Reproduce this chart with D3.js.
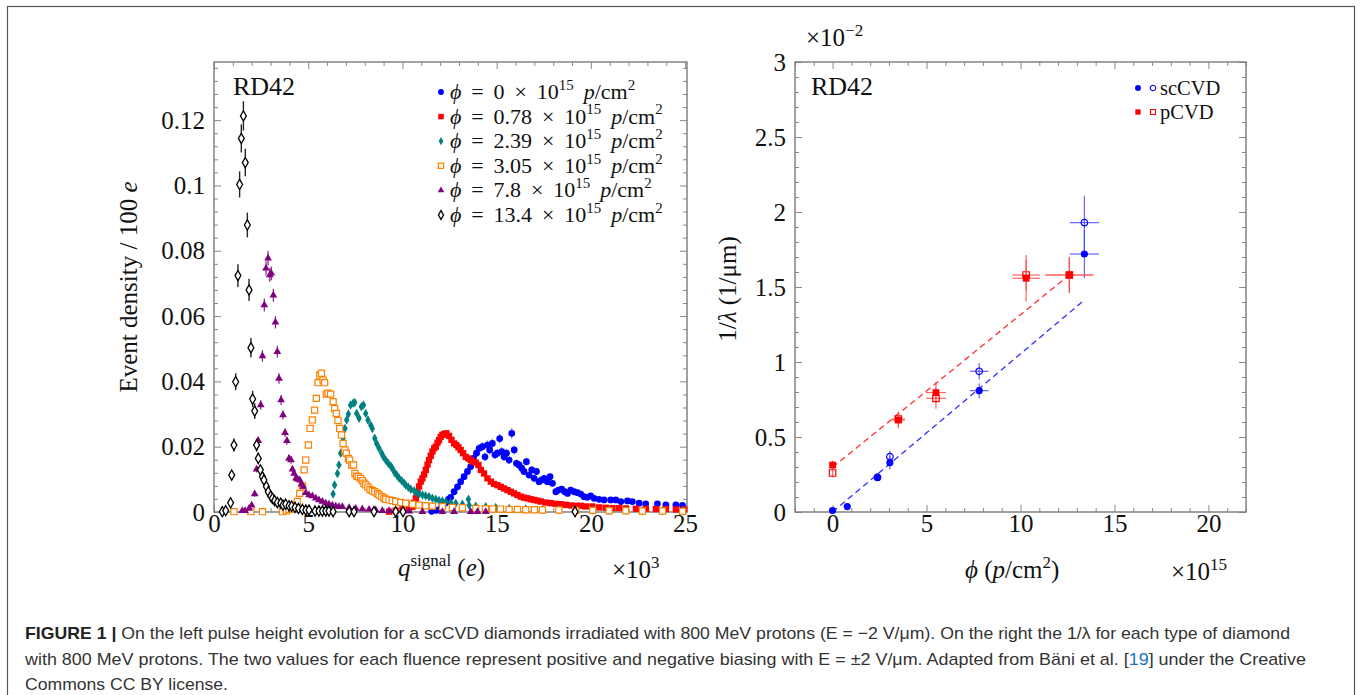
<!DOCTYPE html>
<html><head><meta charset="utf-8">
<script src="https://cdn.jsdelivr.net/npm/d3@7"></script>
<style>body{margin:0;background:#fff}svg{display:block}</style>
</head><body>
<svg id="c" width="1360" height="695"></svg>
<script>
// ---------------- DATA (left: q in 10^3 e, event density / 100 e) ----------------
const legendLabels = ["0", "0.78", "2.39", "3.05", "7.8", "13.4"];
const phi0 = [[11.55,0.0002,0.0002],[11.8,0.0005,0.0003],[12.02,0.0010,0.0004],[12.15,0.0018,0.0005],[12.30,0.0028,0.0006],[12.44,0.0039,0.0006],[12.56,0.0045,0.0007],[12.74,0.0062,0.0008],[12.92,0.0077,0.0008],[13.09,0.0093,0.0009],[13.27,0.0108,0.0010],[13.45,0.0124,0.0011],[13.62,0.0139,0.0011],[13.77,0.0164,0.0012],[13.93,0.0180,0.0013],[14.07,0.0195,0.0013],[14.24,0.0200,0.0014],[14.38,0.0169,0.0013],[14.51,0.0205,0.0014],[14.63,0.0190,0.0013],[14.77,0.0210,0.0014],[14.91,0.0175,0.0013],[15.04,0.0180,0.0013],[15.16,0.0225,0.0015],[15.27,0.0185,0.0013],[15.39,0.0169,0.0013],[15.52,0.0180,0.0013],[15.66,0.0159,0.0012],[15.80,0.0241,0.0016],[15.93,0.0190,0.0014],[16.05,0.0149,0.0012],[16.19,0.0144,0.0012],[16.33,0.0134,0.0011],[16.45,0.0124,0.0011],[16.58,0.0154,0.0012],[16.72,0.0113,0.0010],[16.86,0.0129,0.0011],[16.99,0.0103,0.0010],[17.11,0.0124,0.0011],[17.25,0.0093,0.0009],[17.39,0.0098,0.0010],[17.52,0.0103,0.0010],[17.69,0.0093,0.0009],[17.83,0.0108,0.0010],[17.96,0.0088,0.0009],[18.14,0.0062,0.0008],[18.28,0.0067,0.0008],[18.45,0.0070,0.0008],[18.61,0.0062,0.0008],[18.76,0.0057,0.0007],[18.93,0.0067,0.0008],[19.11,0.0062,0.0008],[19.29,0.0059,0.0007],[19.46,0.0055,0.0007],[19.64,0.0047,0.0007],[19.81,0.0045,0.0007],[19.99,0.0049,0.0007],[20.17,0.0042,0.0006],[20.43,0.0039,0.0006],[20.70,0.0037,0.0006],[21.05,0.0037,0.0006],[21.32,0.0037,0.0006],[21.59,0.0032,0.0006],[21.94,0.0034,0.0006],[22.20,0.0032,0.0006],[22.56,0.0027,0.0005],[22.91,0.0025,0.0005],[23.53,0.0025,0.0005],[23.98,0.0022,0.0005],[24.51,0.0022,0.0005],[24.86,0.0020,0.0005]];
const phi078 = [[9.29,0.0001],[9.64,0.0004],[10.0,0.0008],[10.35,0.0011],[10.53,0.0016],[10.62,0.0028],[10.71,0.0042],[10.80,0.0060],[10.88,0.0078],[10.97,0.0093],[11.06,0.0103],[11.15,0.0115],[11.24,0.0129],[11.33,0.0145],[11.41,0.0159],[11.50,0.0172],[11.59,0.0185],[11.68,0.0195],[11.77,0.0200],[11.86,0.0212],[11.94,0.0220],[12.03,0.0230],[12.12,0.0236],[12.21,0.0239],[12.33,0.0241],[12.47,0.0233],[12.60,0.0221],[12.74,0.0210],[12.86,0.0205],[12.97,0.0198],[13.09,0.0190],[13.22,0.0180],[13.36,0.0169],[13.50,0.0164],[13.62,0.0159],[13.77,0.0154],[13.89,0.0151],[14.03,0.0144],[14.16,0.0129],[14.33,0.0118],[14.51,0.0103],[14.69,0.0093],[14.86,0.0086],[15.04,0.0082],[15.22,0.0077],[15.39,0.0072],[15.57,0.0067],[15.75,0.0062],[15.92,0.0057],[16.10,0.0052],[16.28,0.0047],[16.45,0.0044],[16.63,0.0042],[16.81,0.0039],[16.98,0.0037],[17.16,0.0035],[17.34,0.0032],[17.61,0.0029],[17.87,0.0027],[18.14,0.0025],[18.40,0.0024],[18.67,0.0022],[18.93,0.0020],[19.20,0.0019],[19.46,0.0019],[19.73,0.0017],[20.08,0.0017],[20.44,0.0014],[20.79,0.0013],[21.15,0.0012],[21.50,0.0012],[21.86,0.0011],[22.39,0.0010],[22.92,0.0010],[23.45,0.0009],[23.98,0.0009],[24.51,0.0008],[24.95,0.0008]];
const phi239 = [[6.10,0.0015],[6.32,0.0055],[6.40,0.0083],[6.55,0.0118],[6.63,0.0144],[6.72,0.0180],[6.85,0.0226],[6.95,0.0256],[7.04,0.0282],[7.13,0.0300],[7.25,0.0328],[7.38,0.0333],[7.47,0.0335],[7.57,0.0302],[7.70,0.0287],[7.82,0.0322],[7.93,0.0328],[8.05,0.0302],[8.17,0.0282],[8.32,0.0266],[8.40,0.0256],[8.53,0.0226],[8.63,0.0210],[8.76,0.0195],[8.90,0.0180],[8.99,0.0169],[9.11,0.0159],[9.24,0.0149],[9.38,0.0141],[9.46,0.0134],[9.59,0.0120],[9.70,0.0113],[9.82,0.0103],[9.96,0.0096],[10.09,0.0088],[10.17,0.0083],[10.31,0.0076],[10.44,0.0070],[10.62,0.0065],[10.74,0.0059],[10.88,0.0055],[11.06,0.0052],[11.23,0.0050],[11.41,0.0047],[11.59,0.0042],[11.77,0.0039],[11.94,0.0035],[12.12,0.0034],[12.30,0.0031],[12.56,0.0029],[12.83,0.0027],[13.18,0.0024],[13.50,0.0039],[13.54,0.0021],[13.89,0.0018],[14.42,0.0016],[14.95,0.0014],[15.66,0.0011],[16.54,0.0009],[17.43,0.0008],[18.30,0.0007],[19.20,0.0006],[20.10,0.0006],[20.97,0.0005],[21.85,0.0005],[22.73,0.0004],[23.80,0.0004],[24.90,0.0004]];
const phi305 = [[1.06,0.0001],[1.95,0.0001],[2.57,0.0001],[3.63,0.0001],[3.84,0.0004],[3.98,0.0008],[4.12,0.0011],[4.30,0.0021],[4.42,0.0032],[4.55,0.0057],[4.69,0.0080],[4.78,0.0129],[4.87,0.0159],[5.01,0.0205],[5.10,0.0256],[5.22,0.0282],[5.34,0.0312],[5.43,0.0348],[5.52,0.0396],[5.61,0.0419],[5.70,0.0425],[5.79,0.0404],[5.87,0.0396],[5.96,0.0361],[6.05,0.0364],[6.19,0.0361],[6.32,0.0338],[6.40,0.0317],[6.49,0.0302],[6.58,0.0280],[6.67,0.0256],[6.76,0.0236],[6.85,0.0210],[6.94,0.0190],[7.02,0.0180],[7.13,0.0164],[7.20,0.0159],[7.31,0.0144],[7.40,0.0144],[7.48,0.0118],[7.57,0.0110],[7.66,0.0108],[7.78,0.0103],[7.87,0.0096],[7.96,0.0088],[8.05,0.0083],[8.17,0.0076],[8.28,0.0069],[8.40,0.0065],[8.53,0.0062],[8.67,0.0057],[8.76,0.0052],[8.90,0.0047],[9.02,0.0042],[9.11,0.0039],[9.29,0.0037],[9.46,0.0035],[9.64,0.0032],[9.91,0.0029],[10.17,0.0027],[10.53,0.0024],[10.88,0.0021],[11.23,0.0019],[11.59,0.0018],[12.12,0.0016],[12.65,0.0014],[13.18,0.0013],[13.89,0.0011],[14.40,0.0010],[14.78,0.0009],[15.20,0.0009],[15.66,0.0008],[16.10,0.0008],[16.54,0.0007],[17.00,0.0007],[17.43,0.0006],[18.30,0.0006],[19.20,0.0005],[20.10,0.0005],[20.97,0.0004],[21.85,0.0004],[22.73,0.0003],[23.80,0.0003],[24.86,0.0002]];
const phi78 = [[1.50,0.0004,0.0003],[1.65,0.0004,0.0003],[1.86,0.0011,0.0004],[2.00,0.0021,0.0006],[2.16,0.0055,0.0008],[2.26,0.0131,0.0010],[2.35,0.0218,0.0013],[2.48,0.0328,0.0015],[2.57,0.0478,0.0018],[2.67,0.0634,0.0020],[2.76,0.0746,0.0022],[2.87,0.0777,0.0022],[2.96,0.0726,0.0021],[3.04,0.0731,0.0021],[3.15,0.0664,0.0020],[3.26,0.0581,0.0019],[3.36,0.0491,0.0018],[3.45,0.0409,0.0016],[3.56,0.0343,0.0015],[3.66,0.0297,0.0014],[3.77,0.0243,0.0013],[3.87,0.0218,0.0012],[3.98,0.0164,0.0011],[4.09,0.0159,0.0011],[4.16,0.0131,0.0010],[4.25,0.0118,0.0009],[4.35,0.0103,0.0009],[4.44,0.0100,0.0009],[4.55,0.0098,0.0009],[4.64,0.0085,0.0008],[4.74,0.0078,0.0008],[4.87,0.0059,0.0007],[5.04,0.0052,0.0007],[5.22,0.0049,0.0006],[5.40,0.0042,0.0006],[5.57,0.0037,0.0006],[5.75,0.0032,0.0005],[5.93,0.0027,0.0005],[6.10,0.0024,0.0005],[6.28,0.0021,0.0004],[6.46,0.0018,0.0004],[6.63,0.0016,0.0004],[6.81,0.0016,0.0004],[7.17,0.0013,0.0004],[7.52,0.0011,0.0003],[7.87,0.0009,0.0003],[8.23,0.0008,0.0003],[8.58,0.0006,0.0003],[8.93,0.0004,0.0002],[9.29,0.0004,0.0002],[9.64,0.0004,0.0002],[10.35,0.0002,0.0002],[11.06,0.0001,0.0001],[12.12,0.0001,0.0001],[12.74,0.0001,0.0001],[13.62,0.0001,0.0001],[13.98,0.0001,0.0001],[14.42,0.0001,0.0001]];
const phi134 = [[0.44,0.0001,0.0003],[0.62,0.0004,0.0004],[0.88,0.0028,0.0008],[0.94,0.0113,0.0014],[1.06,0.0205,0.0020],[1.15,0.0399,0.0026],[1.27,0.0724,0.0035],[1.36,0.1003,0.0040],[1.45,0.1144,0.0043],[1.56,0.1213,0.0045],[1.66,0.1070,0.0042],[1.77,0.0879,0.0038],[1.86,0.0680,0.0034],[1.96,0.0503,0.0030],[2.05,0.0346,0.0025],[2.16,0.0309,0.0024],[2.26,0.0205,0.0020],[2.35,0.0164,0.0018],[2.46,0.0129,0.0015],[2.57,0.0108,0.0014],[2.65,0.0098,0.0013],[2.78,0.0078,0.0012],[2.88,0.0062,0.0011],[3.01,0.0049,0.0010],[3.10,0.0042,0.0009],[3.22,0.0035,0.0008],[3.36,0.0029,0.0008],[3.54,0.0027,0.0007],[3.66,0.0021,0.0007],[3.80,0.0024,0.0007],[3.98,0.0019,0.0006],[4.12,0.0018,0.0006],[4.30,0.0014,0.0005],[4.48,0.0011,0.0005],[4.69,0.0008,0.0004],[4.87,0.0006,0.0004],[5.04,0.0006,0.0004],[5.36,0.0003,0.0003],[5.57,0.0003,0.0003],[5.75,0.0003,0.0003],[5.93,0.0003,0.0003],[6.10,0.0003,0.0003],[6.32,0.0001,0.0002],[7.17,0.0001,0.0002],[7.43,0.0001,0.0002],[8.49,0.0001,0.0002],[9.64,0.0001,0.0002],[10.03,0.0001,0.0002],[19.16,0.0001,0.0002]];
const leftXTicks = [0, 5, 10, 15, 20, 25];
const leftYTicks = [0, 0.02, 0.04, 0.06, 0.08, 0.1, 0.12];

// ---------------- DATA (right: phi in 10^15 p/cm^2, 1/lambda in 10^-2 1/um) ----------------
// [phi, value, xErr, yErr]
const scFilled = [[0,0.01,0,0],[0.78,0.036,0,0],[2.39,0.229,0,0.01],[3.05,0.329,0,0.045],[7.8,0.809,0.5,0.05],[13.4,1.72,0.78,0.16]];
const scOpen   = [[2.39,0.232,0,0],[3.05,0.369,0,0.04],[7.8,0.938,0.5,0.055],[13.4,1.929,0.78,0.18]];
const pFilled  = [[0,0.313,0,0.03],[3.5,0.613,0.35,0.055],[5.5,0.796,0.53,0.07],[10.3,1.558,0.73,0.155],[12.6,1.58,1.28,0.12]];
const pOpen    = [[0,0.26,0,0.03],[3.5,0.62,0.35,0.05],[5.5,0.758,0.53,0.07],[10.3,1.58,0.73,0.1],[12.6,1.58,1.28,0.12]];
const scFit = [[0,0.0],[13.4,1.413]];
const pFit  = [[0,0.298],[12.6,1.58]];
const rightXTicks = [0, 5, 10, 15, 20];
const rightYTicks = [0, 0.5, 1, 1.5, 2, 2.5, 3];

// ---------------- DRAW ----------------
const SERIF = "'Liberation Serif','DejaVu Serif',serif";
const svg = d3.select('#c');
svg.append('rect').attr('x',7.5).attr('y',6.5).attr('width',1347).attr('height',720)
  .attr('fill','none').attr('stroke','#555').attr('stroke-width',1.2);

function rich(t, parts, fs){
  let shift = 0;
  parts.forEach(p=>{
    const ts = t.append('tspan').text(p.t);
    if(p.it) ts.attr('font-style','italic');
    const target = p.sup ? -0.42*fs : 0;
    if(p.sup) ts.attr('font-size', 0.68*fs);
    if(target !== shift){ ts.attr('dy', target - shift); shift = target; }
  });
  return t;
}

function frame(g, x, y, xMaj, xMin, yMaj, yMin, yFmt){
  const [bx0,bx1] = x.range(), [by1,by0] = y.range();
  const fs = 25;
  const ax = [
    [d3.axisBottom(x).tickValues(xMaj).tickSize(-7).tickPadding(2).tickFormat(d3.format('d')), `translate(0,${by1})`],
    [d3.axisBottom(x).tickValues(xMin).tickSize(-4).tickFormat(''), `translate(0,${by1})`],
    [d3.axisTop(x).tickValues(xMaj).tickSize(-7).tickFormat(''), `translate(0,${by0})`],
    [d3.axisTop(x).tickValues(xMin).tickSize(-4).tickFormat(''), `translate(0,${by0})`],
    [d3.axisLeft(y).tickValues(yMaj).tickSize(-7).tickPadding(9).tickFormat(yFmt), `translate(${bx0},0)`],
    [d3.axisLeft(y).tickValues(yMin).tickSize(-4).tickFormat(''), `translate(${bx0},0)`],
    [d3.axisRight(y).tickValues(yMaj).tickSize(-7).tickFormat(''), `translate(${bx1},0)`],
    [d3.axisRight(y).tickValues(yMin).tickSize(-4).tickFormat(''), `translate(${bx1},0)`]
  ];
  ax.forEach(([a,tr])=>{
    const gg = g.append('g').attr('transform',tr).call(a);
    gg.select('.domain').remove();
    gg.selectAll('line').attr('stroke','#8a8a8a').attr('stroke-width',1);
    gg.selectAll('text').attr('font-family',SERIF).attr('font-size',fs).attr('fill','#111');
  });
  g.append('rect').attr('x',bx0).attr('y',by0).attr('width',bx1-bx0).attr('height',by1-by0)
    .attr('fill','none').attr('stroke','#7a7a7a').attr('stroke-width',1.4);
}

// ---------- LEFT ----------
const xL = d3.scaleLinear().domain([0,25.1]).range([214,687]);
const yL = d3.scaleLinear().domain([0,0.1378]).range([512,62]);
const gL = svg.append('g');
const leftMinX = d3.range(0,25.5,1).filter(v=>v%5!==0);
const leftMinY = d3.range(0,0.138,0.004).filter(v=>Math.abs(v/0.02-Math.round(v/0.02))>1e-6);
frame(gL, xL, yL, leftXTicks, leftMinX, leftYTicks, leftMinY, d3.format('~g'));

const series = [
  {data:phi0,   color:'#0000ff', sym:d3.symbolCircle,   size:36, fill:true,  ebw:1.2, eop:0.55},
  {data:phi078, color:'#ff0000', sym:d3.symbolSquare,   size:40, fill:true},
  {data:phi239, color:'#008080', sym:d3.symbolDiamond,  size:26, fill:true},
  {data:phi305, color:'#ff8000', sym:d3.symbolSquare,   size:38, fill:false, sw:1.2},
  {data:phi78,  color:'#800080', sym:d3.symbolTriangle, size:26, fill:true,  ebw:1.2, eop:0.9},
  {data:phi134, color:'#000000', sym:d3.symbolDiamond,  size:30, fill:false, sw:1.3, ebw:1.4, eop:0.85}
];
const plotL = gL.append('g');
series.forEach(s=>{
  const g = plotL.append('g');
  g.selectAll('line').data(s.data.filter(d=>d.length>2)).join('line')
    .attr('x1',d=>xL(d[0])).attr('x2',d=>xL(d[0]))
    .attr('y1',d=>yL(Math.max(0,d[1]-d[2]))).attr('y2',d=>yL(d[1]+d[2]))
    .attr('stroke',s.color).attr('stroke-width',s.ebw||1).attr('opacity',s.eop||0.8);
  g.selectAll('path').data(s.data).join('path')
    .attr('transform',d=>`translate(${xL(d[0])},${yL(d[1])})`)
    .attr('d',d3.symbol(s.sym,s.size))
    .attr('fill',s.fill?s.color:'#fff').attr('stroke',s.fill?'none':s.color)
    .attr('stroke-width',s.sw||0);
});

gL.append('text').attr('x',233).attr('y',95).attr('font-family',SERIF).attr('font-size',26).attr('fill','#111').text('RD42');

// legend
const TH = '\u2009';
const legG = gL.append('g');
legendLabels.forEach((lab,i)=>{
  const s = series[i];
  const yy = 92 + i*24.6;
  legG.append('path').attr('transform',`translate(441,${yy})`)
    .attr('d',d3.symbol(s.sym, s.size*0.75))
    .attr('fill',s.fill?s.color:'#fff').attr('stroke',s.fill?'none':s.color).attr('stroke-width',s.sw||0);
  const t = legG.append('text').attr('x',450).attr('y',yy+7).attr('font-family',SERIF).attr('font-size',22).attr('fill','#111');
  rich(t,[{t:'ϕ',it:true},{t:` ${TH}=${TH} ${lab} ${TH}×${TH} 10`},{t:'15',sup:true},{t:' '+TH+'p',it:true},{t:'/cm'},{t:'2',sup:true}],22);
});

// axis labels left
rich(svg.append('text').attr('transform','translate(137,287) rotate(-90)').attr('text-anchor','middle')
  .attr('font-family',SERIF).attr('font-size',25).attr('fill','#111'),
  [{t:'Event density / 100 '},{t:'e',it:true}],25);
rich(svg.append('text').attr('x',398).attr('y',576).attr('font-family',SERIF).attr('font-size',25).attr('fill','#111'),
  [{t:'q',it:true},{t:'signal',sup:true},{t:' ('},{t:'e',it:true},{t:')'}],25);
rich(svg.append('text').attr('x',612).attr('y',578).attr('font-family',SERIF).attr('font-size',25).attr('fill','#111'),
  [{t:'×10'},{t:'3',sup:true}],25);

// ---------- RIGHT ----------
const xR = d3.scaleLinear().domain([-2,22]).range([795,1246]);
const yR = d3.scaleLinear().domain([0,3]).range([512,62]);
const gR = svg.append('g');
const rightMinX = d3.range(-2,22.5,1).filter(v=>v%5!==0);
const rightMinY = d3.range(0,3.01,0.1).filter(v=>Math.abs(v/0.5-Math.round(v/0.5))>1e-6);
frame(gR, xR, yR, rightXTicks, rightMinX, rightYTicks, rightMinY, d3.format('~g'));

const line = d3.line().x(d=>xR(d[0])).y(d=>yR(d[1]));
gR.append('path').attr('d',line(pFit)).attr('fill','none').attr('stroke','#ff3030').attr('stroke-width',1.3).attr('stroke-dasharray','6,4');
gR.append('path').attr('d',line(scFit)).attr('fill','none').attr('stroke','#3030ff').attr('stroke-width',1.3).attr('stroke-dasharray','6,4');

const rs = [
  {data:scOpen,  color:'#0000ff', sym:d3.symbolCircle, size:34, fill:false},
  {data:scFilled,color:'#0000ff', sym:d3.symbolCircle, size:40, fill:true},
  {data:pOpen,   color:'#ff0000', sym:d3.symbolSquare, size:42, fill:false},
  {data:pFilled, color:'#ff0000', sym:d3.symbolSquare, size:46, fill:true}
];
rs.forEach(s=>{
  const g = gR.append('g');
  const ec = s.color==='#0000ff' ? '#4040ff' : '#ff4040';
  g.selectAll('line.v').data(s.data.filter(d=>d[3]>0)).join('line').attr('class','v')
    .attr('x1',d=>xR(d[0])).attr('x2',d=>xR(d[0])).attr('y1',d=>yR(d[1]-d[3])).attr('y2',d=>yR(d[1]+d[3]))
    .attr('stroke',ec).attr('stroke-width',1.2).attr('opacity',0.8);
  g.selectAll('line.h').data(s.data.filter(d=>d[2]>0)).join('line').attr('class','h')
    .attr('x1',d=>xR(d[0]-d[2])).attr('x2',d=>xR(d[0]+d[2])).attr('y1',d=>yR(d[1])).attr('y2',d=>yR(d[1]))
    .attr('stroke',ec).attr('stroke-width',1.2).attr('opacity',0.8);
  g.selectAll('path').data(s.data).join('path')
    .attr('transform',d=>`translate(${xR(d[0])},${yR(d[1])})`)
    .attr('d',d3.symbol(s.sym,s.size))
    .attr('fill',s.fill?s.color:'none').attr('stroke',s.fill?'none':s.color).attr('stroke-width',1.2);
});

gR.append('text').attr('x',811).attr('y',95).attr('font-family',SERIF).attr('font-size',26).attr('fill','#111').text('RD42');
// right legend
[['scCVD','#0000ff',d3.symbolCircle,88],['pCVD','#ff0000',d3.symbolSquare,112]].forEach(([lab,c,sym,yy])=>{
  gR.append('path').attr('transform',`translate(1138,${yy})`).attr('d',d3.symbol(sym,28)).attr('fill',c);
  gR.append('path').attr('transform',`translate(1153,${yy})`).attr('d',d3.symbol(sym,24)).attr('fill','none').attr('stroke',c).attr('stroke-width',1.1);
  gR.append('text').attr('x',1160).attr('y',yy+6.5).attr('font-family',SERIF).attr('font-size',20.5).attr('fill','#111').text(lab);
});

rich(svg.append('text').attr('transform','translate(736,289) rotate(-90)').attr('text-anchor','middle')
  .attr('font-family',SERIF).attr('font-size',25).attr('fill','#111'),
  [{t:'1/'},{t:'λ',it:true},{t:' (1/μm)'}],25);
rich(svg.append('text').attr('x',965).attr('y',578).attr('font-family',SERIF).attr('font-size',25).attr('fill','#111'),
  [{t:'ϕ',it:true},{t:' ('},{t:'p',it:true},{t:'/cm'},{t:'2',sup:true},{t:')'}],25);
rich(svg.append('text').attr('x',1171).attr('y',580).attr('font-family',SERIF).attr('font-size',25).attr('fill','#111'),
  [{t:'×10'},{t:'15',sup:true}],25);
rich(svg.append('text').attr('x',806).attr('y',46).attr('font-family',SERIF).attr('font-size',25).attr('fill','#111'),
  [{t:'×10'},{t:'−2',sup:true}],25);

// ---------- CAPTION ----------
const SANS = "'Liberation Sans','Noto Sans',Arial,sans-serif";
const cap = svg.append('g').attr('font-family',SANS).attr('font-size',17).attr('fill','#333');
const l1 = cap.append('text').attr('x',25).attr('y',639).attr('textLength',1265).attr('lengthAdjust','spacingAndGlyphs');
l1.append('tspan').attr('font-weight','bold').attr('fill','#222').text('FIGURE 1 | ');
l1.append('tspan').text('On the left pulse height evolution for a scCVD diamonds irradiated with 800 MeV protons (E = −2 V/μm). On the right the 1/λ for each type of diamond');
const l2 = cap.append('text').attr('x',25).attr('y',665).attr('textLength',1281).attr('lengthAdjust','spacingAndGlyphs');
l2.append('tspan').text('with 800 MeV protons. The two values for each fluence represent positive and negative biasing with E = ±2 V/μm. Adapted from Bäni et al. [');
l2.append('tspan').attr('fill','#1a73c8').text('19');
l2.append('tspan').text('] under the Creative');
cap.append('text').attr('x',25).attr('y',690).attr('textLength',203).attr('lengthAdjust','spacingAndGlyphs').text('Commons CC BY license.');
</script>
</body></html>
